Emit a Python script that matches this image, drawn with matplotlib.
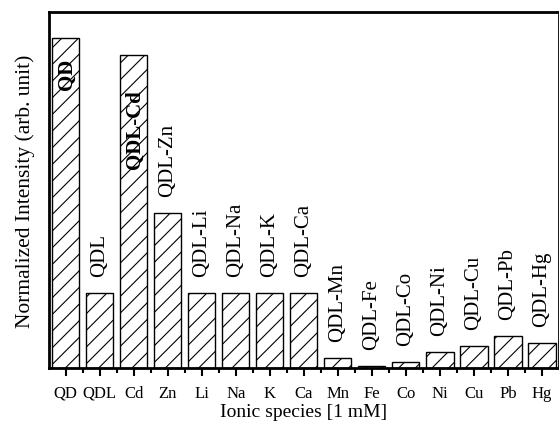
import matplotlib.pyplot as plt
import numpy as np

plt.rcParams['font.family'] = ['Liberation Serif', 'DejaVu Serif']
plt.rcParams['hatch.linewidth'] = 0.8

# data (normalized to QD = 1)
ions = ['QD', 'QDL', 'Cd', 'Zn', 'Li', 'Na', 'K', 'Ca', 'Mn', 'Fe', 'Co', 'Ni', 'Cu', 'Pb', 'Hg']
labels = ['QD', 'QDL', 'QDL-Cd', 'QDL-Zn', 'QDL-Li', 'QDL-Na', 'QDL-K', 'QDL-Ca',
          'QDL-Mn', 'QDL-Fe', 'QDL-Co', 'QDL-Ni', 'QDL-Cu', 'QDL-Pb', 'QDL-Hg']
intensity = [1.0, 0.227, 0.948, 0.47, 0.227, 0.227, 0.227, 0.227,
             0.03, 0.006, 0.018, 0.048, 0.067, 0.097, 0.076]

fig = plt.figure(figsize=(5.59, 4.27), dpi=100)
ax = fig.add_axes([0.087, 0.136, 0.913, 0.834])

x = np.arange(len(ions))
ax.bar(x, intensity, width=0.8, color='white', edgecolor='black',
       linewidth=1.0, hatch='//')

# labels above bars; QD and QDL-Cd sit bold inside the bar top
inside = {'QD': -20, 'QDL-Cd': -34}
for xi, val, lab in zip(x, intensity, labels):
    if lab in inside:
        ax.annotate(lab, (xi, val), xytext=(1, inside[lab] * 0.72),
                    textcoords='offset points', rotation=90, ha='center',
                    va='top', fontsize=15, fontweight='bold')
    else:
        ax.annotate(lab, (xi, val), xytext=(0, 12), textcoords='offset points',
                    rotation=90, ha='center', va='bottom', fontsize=15)

ax.set_xlim(-0.5, len(ions) - 0.5)
ax.set_ylim(0, 1.079)
ax.set_xticks(x)
ax.set_xticklabels(ions, fontsize=12)
ax.set_xticks(x[:-1] + 0.5, minor=True)
ax.tick_params(axis='x', which='major', direction='out', length=6, width=1.5, pad=6)
ax.tick_params(axis='x', which='minor', direction='out', length=3.5, width=1.5)
ax.set_yticks([])
for s in ax.spines.values():
    s.set_linewidth(2)

ax.set_xlabel('Ionic species [1 mM]', fontsize=14, labelpad=2)
ax.set_ylabel('Normalized Intensity (arb. unit)', fontsize=15.5, labelpad=10)

fig.savefig('out.png', dpi=100)
